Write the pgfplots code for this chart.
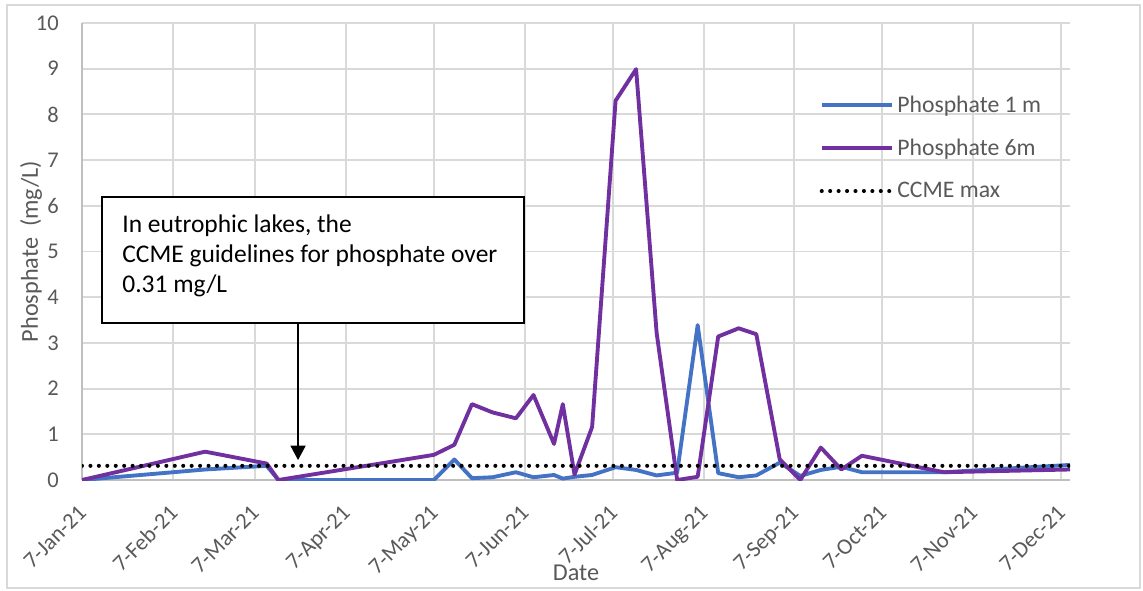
\documentclass[border=0pt]{standalone}
\usepackage{fontspec}
\setmainfont{Carlito}
\usepackage{pgfplots}
\usepackage{pgfplotstable}
\pgfplotsset{compat=1.18}
\usetikzlibrary{arrows.meta}

\definecolor{seriesblue}{HTML}{4472C4}
\definecolor{seriespurple}{HTML}{7030A0}
\definecolor{gridgray}{HTML}{D9D9D9}
\definecolor{axisgray}{HTML}{BFBFBF}
\definecolor{textgray}{HTML}{595959}

% day = days since 7-Jan-21, value in mg/L
\pgfplotstableread{
day value
0   0
42  0.23
63  0.31
67  0
120 0
127 0.45
133 0.04
140 0.06
148 0.17
154 0.06
161 0.11
164 0.03
168 0.07
174 0.11
182 0.28
189 0.22
196 0.10
203 0.16
210 3.39
217 0.15
224 0.06
230 0.10
238 0.38
245 0.09
252 0.22
259 0.29
266 0.17
294 0.17
337 0.33
}\shallow

\pgfplotstableread{
day value
0   0
42  0.62
63  0.36
67  0
120 0.55
127 0.77
133 1.66
140 1.48
148 1.35
154 1.86
161 0.79
164 1.66
168 0.12
174 1.16
182 8.30
189 8.99
196 3.22
203 0
210 0.07
217 3.14
224 3.32
230 3.19
238 0.45
245 0
252 0.71
259 0.23
266 0.53
294 0.17
337 0.23
}\deep

\pgfplotstableread{
day value
0   0.31
337 0.31
}\ccme

\begin{document}
\begin{tikzpicture}
\path[use as bounding box] (0,0) rectangle (22.86cm,11.8cm);
\draw[gridgray, line width=0.6pt] (0.14cm,0.04cm) rectangle (22.8cm,11.7cm);
\begin{axis}[
  at={(1.64cm,2.2cm)}, anchor=south west,
  scale only axis, width=19.76cm, height=9.14cm,
  xmin=0, xmax=337, ymin=0, ymax=10,
  xtick={0,31,59,90,120,151,181,212,243,273,304,334},
  xticklabels={7-Jan-21,7-Feb-21,7-Mar-21,7-Apr-21,7-May-21,7-Jun-21,7-Jul-21,7-Aug-21,7-Sep-21,7-Oct-21,7-Nov-21,7-Dec-21},
  ytick={0,1,...,10},
  major tick length=0pt,
  grid=major,
  grid style={gridgray, line width=1.1pt},
  axis x line*=bottom, axis y line*=left,
  axis line style={axisgray, line width=1.1pt},
  /pgf/number format/assume math mode=true,
  ticklabel style={font=\fontsize{12.8}{15}\selectfont, text=textgray},
  yticklabel style={xshift=-0.34cm},
  xticklabel style={xshift=-0.1cm, yshift=-0.3cm, rotate=45, anchor=north east},
  xlabel={Date},
  ylabel={Phosphate\ \ (mg/L)},
  every axis x label/.style={at={(rel axis cs:0.5,0)}, anchor=center, yshift=-1.86cm,
    font=\fontsize{13.8}{16}\selectfont, text=textgray},
  every axis y label/.style={at={(rel axis cs:0,0.5)}, xshift=-1.02cm, rotate=90, anchor=center,
    font=\fontsize{13.8}{16}\selectfont, text=textgray},
  legend style={at={(0.741,0.857)}, anchor=north west, draw=none, fill=none,
    font=\fontsize{13.5}{16}\selectfont, text=textgray,
    row sep=0.34cm},
  legend cell align=left,
  legend image code/.code={\draw[#1] (0cm,0cm) -- (1.4cm,0cm);},
]
\addplot[seriesblue, line width=2.2pt, line join=round] table[x=day, y=value] {\shallow};
\addlegendentry{Phosphate 1 m}
\addplot[seriespurple, line width=2.2pt, line join=round] table[x=day, y=value] {\deep};
\addlegendentry{Phosphate 6m}
\addplot[black, line width=2.3pt, line cap=round, dash pattern=on 0pt off 4.8pt] table[x=day, y=value] {\ccme};
\addlegendentry{CCME max}
\end{axis}

% annotation, positioned in pixel units from the top-left corner
\begin{scope}[x=0.02cm, y=-0.02cm, shift={(0cm,11.8cm)}]
\draw[black, line width=1.5pt, fill=white] (102,197) rectangle (524,323);
\node[anchor=base west, inner sep=0pt, font=\fontsize{14.5}{17}\selectfont] at (122,232) {In eutrophic lakes, the};
\node[anchor=base west, inner sep=0pt, font=\fontsize{14.5}{17}\selectfont] at (122,262) {CCME guidelines for phosphate over};
\node[anchor=base west, inner sep=0pt, font=\fontsize{14.5}{17}\selectfont] at (122,292) {0.31 mg/L};
\draw[black, line width=1pt, -{Triangle[length=0.29cm,width=0.3cm]}] (298,323) -- (298,460);
\end{scope}
\end{tikzpicture}
\end{document}
